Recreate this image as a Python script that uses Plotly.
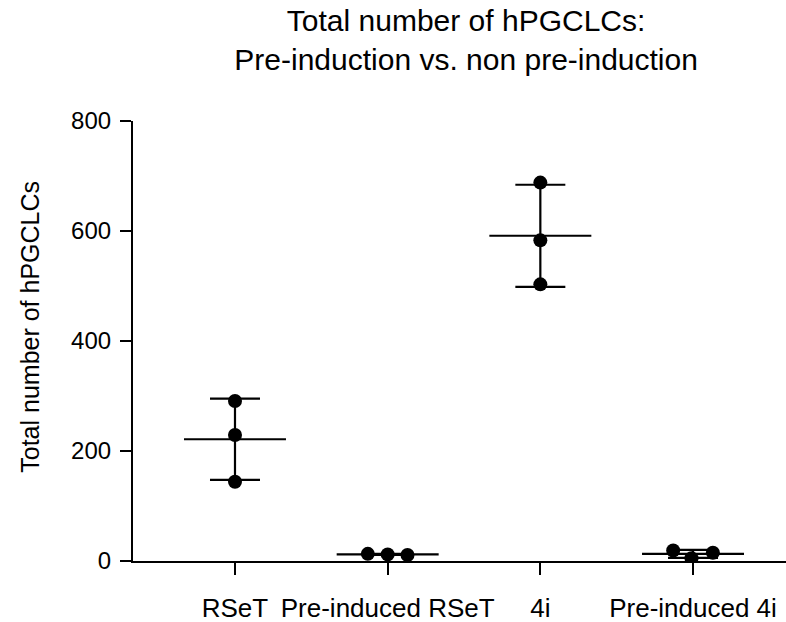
import numpy as np
import plotly.graph_objects as go

categories = ["RSeT", "Pre-induced RSeT", "4i", "Pre-induced 4i"]
values = [
    [291, 229, 144],
    [13, 12, 11],
    [688, 583, 503],
    [19, 5, 15],
]
jitter = [
    [0, 0, 0],
    [-0.13, 0, 0.13],
    [0, 0, 0],
    [-0.13, -0.01, 0.13],
]
y_ticks = [0, 200, 400, 600, 800]

FONT = "Liberation Sans, Arial, sans-serif"
fig = go.Figure()

for i, (cat, vals) in enumerate(zip(categories, values)):
    arr = np.array(vals, dtype=float)
    mean = arr.mean()
    sd = arr.std(ddof=1)
    # mean line
    fig.add_trace(go.Scatter(
        x=[i - 0.334, i + 0.334], y=[mean, mean], mode="lines",
        line=dict(color="black", width=2.2), showlegend=False, hoverinfo="skip"))
    # SD error bar
    fig.add_trace(go.Scatter(
        x=[i], y=[mean], mode="markers", marker=dict(size=1, color="rgba(0,0,0,0)"),
        error_y=dict(type="data", array=[sd], visible=True, color="black",
                     thickness=2.2, width=25),
        showlegend=False, hoverinfo="skip"))
    # points
    fig.add_trace(go.Scatter(
        x=[i + j for j in jitter[i]], y=vals, mode="markers",
        marker=dict(size=14, color="black"), showlegend=False, name=cat))

fig.update_layout(
    width=786, height=622,
    paper_bgcolor="white", plot_bgcolor="white",
    margin=dict(l=133, r=0, t=121, b=61, autoexpand=False),
    font=dict(family=FONT, color="black"),
    title=dict(text="Total number of hPGCLCs:<br>Pre-induction vs. non pre-induction",
               x=0.593, xanchor="center", y=0.95, yanchor="top", yref="container",
               font=dict(size=30, family=FONT, color="black")),
    annotations=[dict(
        text="Total number of hPGCLCs", textangle=-90, showarrow=False,
        xref="paper", yref="paper", x=-0.158, y=0.532, xanchor="center", yanchor="middle",
        font=dict(size=25, family=FONT, color="black"))],
)
fig.update_xaxes(
    range=[-0.668, 3.609], tickmode="array", tickvals=list(range(len(categories))),
    ticktext=categories, showgrid=False, zeroline=False, showline=True,
    linecolor="black", linewidth=2.2, ticks="outside", ticklen=12, tickwidth=2,
    tickcolor="black", tickfont=dict(size=26, family=FONT, color="black"),
    ticklabelstandoff=11, automargin=False,
)
fig.update_yaxes(
    range=[0, 800], tickmode="array", tickvals=y_ticks, showgrid=False,
    zeroline=False, showline=True, linecolor="black", linewidth=2.2,
    ticks="outside", ticklen=11, tickwidth=2, tickcolor="black",
    tickfont=dict(size=24, family=FONT, color="black"), ticklabelstandoff=4,
    automargin=False,
)

fig.write_html("out.html", config={"displayModeBar": False},
               post_script="document.body.style.margin='0';document.body.style.overflow='hidden';")
